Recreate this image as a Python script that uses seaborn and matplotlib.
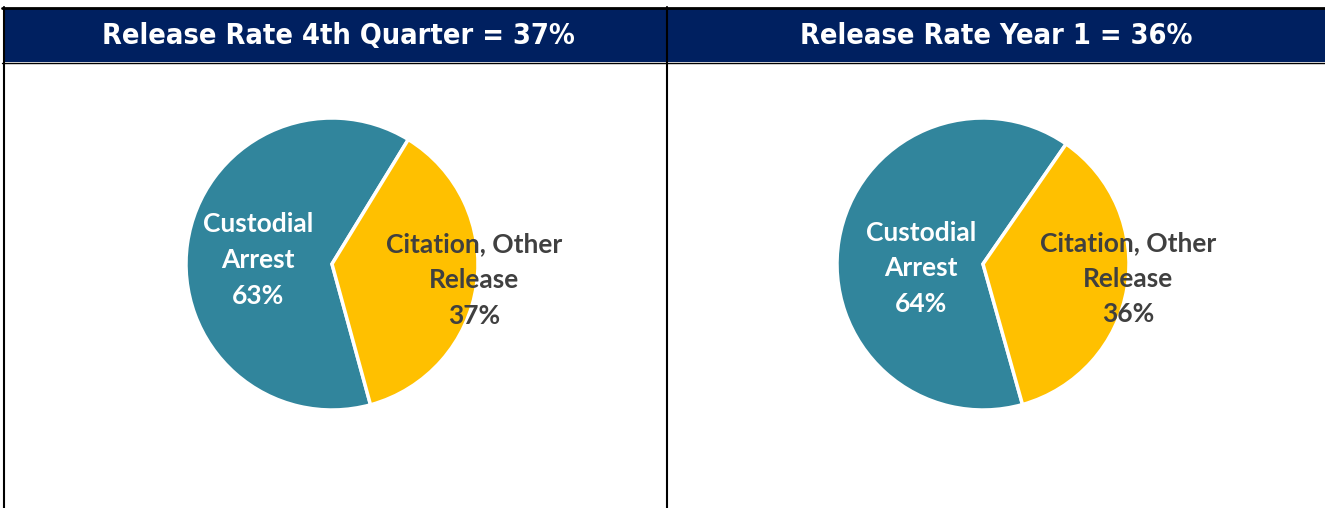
import matplotlib
matplotlib.use("Agg")
import matplotlib.pyplot as plt
from matplotlib.patches import Rectangle
from matplotlib.lines import Line2D
import seaborn as sns

# data
labels = ["Custodial\nArrest", "Citation, Other\nRelease"]
q4_values = [63, 37]
y1_values = [64, 36]
titles = ["Release Rate 4th Quarter = 37%", "Release Rate Year 1 = 36%"]

colours = ["#31859C", "#FFC000"]
label_colours = ["white", "#404040"]
navy = "#002060"

sns.set_theme(style="white")
plt.rcParams["font.family"] = ["Lato", "DejaVu Sans"]

W, H = 1325, 508
fig = plt.figure(figsize=(W / 100, H / 100), dpi=100)
fig.patch.set_facecolor("white")


def fx(px):
    return px / W


def fy(py):
    return 1 - py / H


# header band
fig.patches.append(Rectangle((fx(3), fy(62)), fx(W - 3), (62 - 9) / H,
                             transform=fig.transFigure, facecolor=navy,
                             edgecolor="none", zorder=0))
fig.add_artist(Line2D([fx(2), 1], [fy(8), fy(8)], color="black", lw=2))
fig.add_artist(Line2D([fx(2), 1], [fy(62.5), fy(62.5)], color="black", lw=1))
for xpx in [3.5, 666.5]:
    fig.add_artist(Line2D([fx(xpx), fx(xpx)], [0, fy(7)], color="black", lw=1.5))

title_x = [338, 996]
for t, xpx in zip(titles, title_x):
    fig.text(fx(xpx), fy(36), t, ha="center", va="center", color="white",
             fontsize=20.7, fontweight="bold", fontstretch="condensed",
             family=["DejaVu Sans"])

# pies
centres = [(332, 264), (983, 264)]
radius = 146
starts = [58.5, 55.3]
series = [q4_values, y1_values]
label_pos = [[(-0.507, 0.027), (0.973, -0.11)], [(-0.425, -0.03), (0.993, -0.10)]]

for (cx, cy), start, vals, lpos in zip(centres, starts, series, label_pos):
    ax = fig.add_axes([fx(cx - radius), fy(cy + radius), 2 * radius / W, 2 * radius / H])
    ax.pie(vals, colors=colours, startangle=start, counterclock=True,
           wedgeprops={"edgecolor": "white", "linewidth": 2.5})
    ax.set_xlim(-1, 1)
    ax.set_ylim(-1, 1)
    ax.set_aspect("equal")
    ax.axis("off")
    for lab, v, (dx, dy), c in zip(labels, vals, lpos, label_colours):
        ax.text(dx, dy, f"{lab}\n{v}%", ha="center", va="center", color=c,
                fontsize=19, fontweight="bold", linespacing=1.58, clip_on=False)

fig.savefig("out.png", dpi=100, facecolor="white")
